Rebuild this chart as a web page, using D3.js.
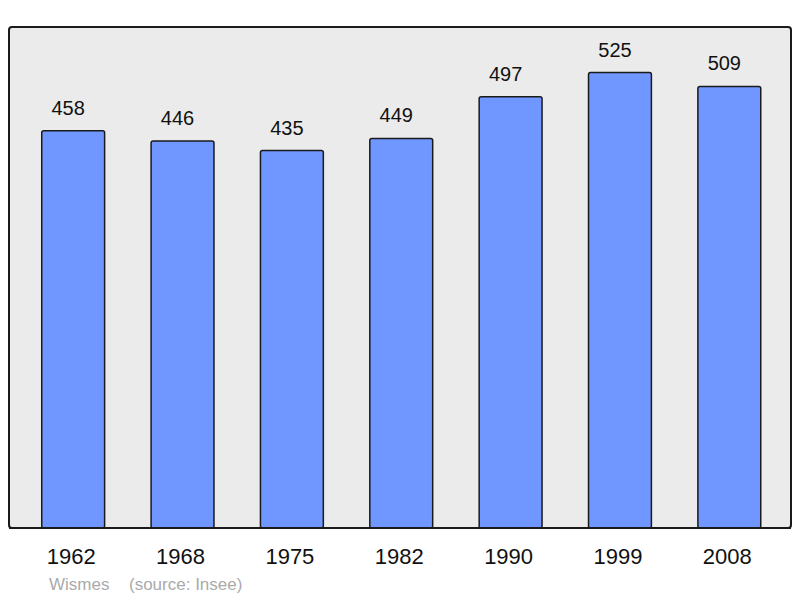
<!DOCTYPE html>
<html><head><meta charset="utf-8">
<script src="https://cdn.jsdelivr.net/npm/d3@7"></script>
<style>body{margin:0;background:#fff;}svg{display:block;font-family:"Liberation Sans",Arial,sans-serif;}</style>
</head><body>
<script>
const years = ["1962","1968","1975","1982","1990","1999","2008"];
const population = [458,446,435,449,497,525,509];
const caption = ["Wismes","(source: Insee)"];

const W=800,H=598;
const svg=d3.select("body").append("svg").attr("width",W).attr("height",H);
const panel={x:9,y:27,w:782,h:501};
svg.append("rect").attr("x",panel.x).attr("y",panel.y).attr("width",panel.w).attr("height",panel.h)
  .attr("rx",3).attr("fill","#ebebeb").attr("stroke","#1a1a1a").attr("stroke-width",2);

const x=d3.scaleBand().domain(years).range([18.5,784]).paddingInner(0.425).paddingOuter(0.2125);
const y=d3.scaleLinear().domain([0,d3.max(population)*1.1]).range([panel.y+panel.h,panel.y]);

svg.selectAll("rect.bar").data(population).enter().append("rect").attr("class","bar")
  .attr("x",(d,i)=>x(years[i])).attr("y",d=>y(d)).attr("width",x.bandwidth())
  .attr("height",d=>y(0)-y(d)).attr("rx",2)
  .attr("fill","#7096ff").attr("stroke","#1a1a1a").attr("stroke-width",1.5);

svg.selectAll("text.val").data(population).enter().append("text").attr("class","val")
  .attr("x",(d,i)=>x(years[i])+x.bandwidth()/2-5).attr("y",d=>y(d)-16)
  .attr("text-anchor","middle").attr("font-size",20).attr("fill","#111").text(d=>d);

svg.append("line").attr("x1",panel.x).attr("x2",panel.x+panel.w).attr("y1",y(0)).attr("y2",y(0))
  .attr("stroke","#1a1a1a").attr("stroke-width",2);

svg.selectAll("text.yr").data(years).enter().append("text").attr("class","yr")
  .attr("x",d=>x(d)+x.bandwidth()/2-2).attr("y",564)
  .attr("text-anchor","middle").attr("font-size",22).attr("fill","#111").text(d=>d);

svg.append("text").attr("x",49).attr("y",590).attr("font-size",17).attr("fill","#aaaaaa").text(caption[0]);
svg.append("text").attr("x",129).attr("y",590).attr("font-size",17).attr("fill","#aaaaaa").text(caption[1]);
</script>
</body></html>
